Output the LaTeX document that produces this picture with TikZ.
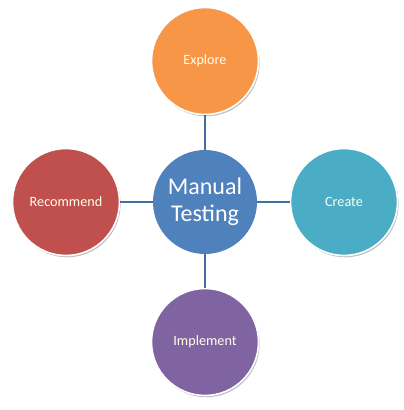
\documentclass[tikz,border=0pt]{standalone}
\usepackage{fontspec}
\setmainfont{Carlito}
\usetikzlibrary{shadows}
\definecolor{cblue}{HTML}{4F81BD}
\definecolor{corange}{HTML}{F79646}
\definecolor{cteal}{HTML}{4BACC6}
\definecolor{cpurple}{HTML}{8064A2}
\definecolor{cred}{HTML}{C0504D}
\definecolor{cline}{HTML}{41709F}
\tikzset{
  bubble/.style={circle, draw=white, line width=1.6pt, minimum size=107pt, inner sep=0pt,
    text=white!92!yellow, font=\fontsize{14.2}{16}\selectfont, align=center,
    drop shadow={shadow xshift=1.2pt, shadow yshift=-1.8pt, opacity=0.35, fill=black!70}},
  hub/.style={circle, fill=cblue, minimum size=104pt, inner sep=0pt,
    text=white, font=\fontsize{24}{27}\selectfont, align=center},
  link/.style={draw=cline, line width=1.6pt}
}
\begin{document}
\begin{tikzpicture}[x=1pt,y=1pt]
\useasboundingbox (0,0) rectangle (404,410);
\node[hub] (c) at (205,208) {Manual\\Testing};
\node[bubble, fill=corange] (e) at (205,349) {Explore};
\node[bubble, fill=cteal] (r) at (344,208) {Create};
\node[bubble, fill=cpurple] (b) at (205,68) {Implement};
\node[bubble, fill=cred] (l) at (66,208) {Recommend};
\draw[link] (c) -- (e);
\draw[link] (c) -- (r);
\draw[link] (c) -- (b);
\draw[link] (c) -- (l);
\end{tikzpicture}
\end{document}
